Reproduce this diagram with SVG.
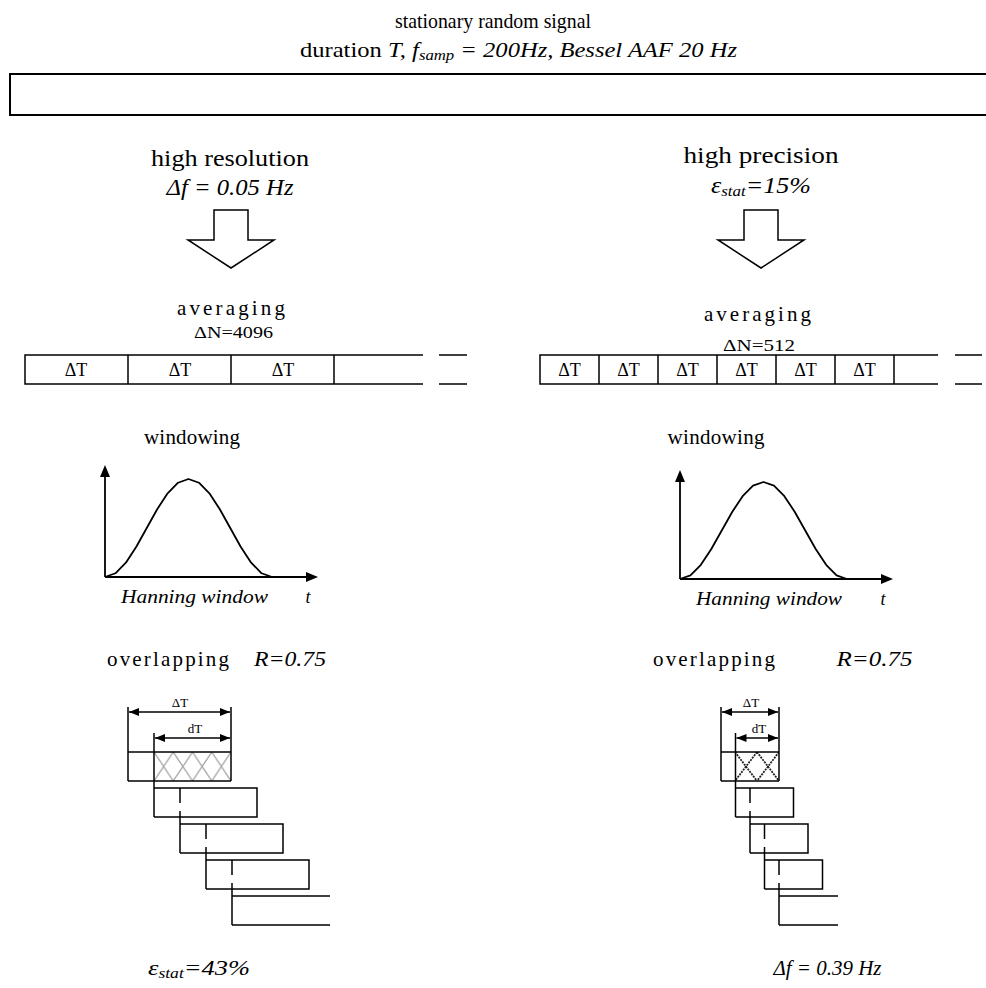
<svg xmlns="http://www.w3.org/2000/svg" width="986" height="988" viewBox="0 0 986 988">
<defs>
<style>
text{font-family:"Liberation Serif","Times New Roman",serif;fill:#000}
.t20{font-size:21px}
.t22{font-size:22px}
.t23{font-size:23px}
.t18{font-size:18px}
.t16{font-size:16px}
.t13{font-size:13px}
.it{font-style:italic}
.ln{fill:none;stroke:#000;stroke-width:1.5}
.ax{fill:none;stroke:#000;stroke-width:1.8}
.dim{fill:none;stroke:#000;stroke-width:1.5}
.blk{fill:#fff;stroke:#000;stroke-width:1.5}
</style>
<marker id="axh" viewBox="0 0 12 10" refX="0" refY="5" markerWidth="12" markerHeight="10" markerUnits="userSpaceOnUse" orient="auto">
<path d="M0,0 L12,5 L0,10 Z" fill="#000"/>
</marker>
<marker id="dh" viewBox="0 0 10 8" refX="10" refY="4" markerWidth="10" markerHeight="8" markerUnits="userSpaceOnUse" orient="auto-start-reverse">
<path d="M0,0 L10,4 L0,8 Z" fill="#000"/>
</marker>
<pattern id="hatchL" patternUnits="userSpaceOnUse" x="154" y="752" width="19.25" height="29">
<path d="M0,0 L19.25,29 M19.25,0 L0,29" stroke="#a8a8a8" stroke-width="1.3" fill="none"/>
</pattern>
<pattern id="hatchR" patternUnits="userSpaceOnUse" x="735" y="752" width="22" height="29">
<path d="M0,0 L22,29 M22,0 L0,29" stroke="#222" stroke-width="1.8" fill="none" stroke-dasharray="2,1"/>
</pattern>
</defs>
<rect width="986" height="988" fill="#fff"/>

<g id="title">
<text x="493" y="28" text-anchor="middle" class="t22" textLength="196" lengthAdjust="spacingAndGlyphs">stationary random signal</text>
<text x="518.5" y="57" text-anchor="middle" class="t22" textLength="437" lengthAdjust="spacingAndGlyphs">duration <tspan class="it">T, f</tspan><tspan class="it" font-size="15" dy="3">samp</tspan><tspan class="it" dy="-3"> = 200Hz, Bessel AAF 20 Hz</tspan></text>
</g>

<g id="signal">
<path d="M988,74 H10 V115 H988" fill="none" stroke="#000" stroke-width="2"/>
</g>

<g id="left-resolution">
<text x="230" y="166" text-anchor="middle" class="t23" textLength="158" lengthAdjust="spacingAndGlyphs">high resolution</text>
<text x="230" y="195" text-anchor="middle" class="t23 it" textLength="127" lengthAdjust="spacingAndGlyphs">Δf = 0.05 Hz</text>
</g>
<g id="left-arrow">
<polygon class="blk" points="214,210 248,210 248,240 274,240 231,268 188,240 214,240"/>
</g>

<g id="right-precision">
<text x="761" y="163" text-anchor="middle" class="t23" textLength="155" lengthAdjust="spacingAndGlyphs">high precision</text>
<text x="761" y="193" text-anchor="middle" class="t23 it" textLength="100" lengthAdjust="spacingAndGlyphs">ε<tspan font-size="15" dy="3">stat</tspan><tspan dy="-3">=15%</tspan></text>
</g>
<g id="right-arrow">
<polygon class="blk" points="744,210 778,210 778,240 804,240 761,268 718,240 744,240"/>
</g>

<g id="left-averaging">
<text x="231" y="315" text-anchor="middle" class="t20" textLength="108" lengthAdjust="spacing">averaging</text>
<text x="233.5" y="338" text-anchor="middle" class="t16" textLength="79" lengthAdjust="spacingAndGlyphs">ΔN=4096</text>
<path class="ln" d="M423,355 H25 V384 H423 M128,355 V384 M231,355 V384 M334,355 V384 M439,355 H467 M439,384 H467"/>
<text x="76" y="376" text-anchor="middle" class="t18">ΔT</text>
<text x="180" y="376" text-anchor="middle" class="t18">ΔT</text>
<text x="283" y="376" text-anchor="middle" class="t18">ΔT</text>
</g>

<g id="right-averaging">
<text x="757.5" y="321" text-anchor="middle" class="t20" textLength="107" lengthAdjust="spacing">averaging</text>
<text x="759" y="351" text-anchor="middle" class="t16" textLength="72" lengthAdjust="spacingAndGlyphs">ΔN=512</text>
<path class="ln" d="M938,355 H540 V384 H938 M599,355 V384 M658,355 V384 M717,355 V384 M776,355 V384 M835,355 V384 M894,355 V384 M955,355 H982 M955,384 H982"/>
<text x="569.5" y="376" text-anchor="middle" class="t18">ΔT</text>
<text x="628.5" y="376" text-anchor="middle" class="t18">ΔT</text>
<text x="687.5" y="376" text-anchor="middle" class="t18">ΔT</text>
<text x="746.5" y="376" text-anchor="middle" class="t18">ΔT</text>
<text x="805.5" y="376" text-anchor="middle" class="t18">ΔT</text>
<text x="864.5" y="376" text-anchor="middle" class="t18">ΔT</text>
</g>

<g id="left-windowing">
<text x="192" y="444" text-anchor="middle" class="t20" textLength="96" lengthAdjust="spacing">windowing</text>
<path class="ax" d="M105,577 V477" marker-end="url(#axh)"/>
<path class="ax" d="M105,577 H306" marker-end="url(#axh)"/>
<polyline fill="none" stroke="#000" stroke-width="1.8" stroke-linejoin="round" points="105,577 115.44,573.27 125.88,562.65 136.31,546.75 146.75,528 157.19,509.25 167.63,493.35 178.06,482.73 188.5,479 198.94,482.73 209.38,493.35 219.81,509.25 230.25,528 240.69,546.75 251.13,562.65 261.56,573.27 272,577"/>
<text x="194.5" y="603" text-anchor="middle" class="t18 it" textLength="147" lengthAdjust="spacingAndGlyphs">Hanning window</text>
<text x="308" y="603" text-anchor="middle" class="t18 it">t</text>
</g>

<g id="right-windowing">
<text x="716" y="444" text-anchor="middle" class="t20" textLength="97" lengthAdjust="spacing">windowing</text>
<path class="ax" d="M680,579 V482" marker-end="url(#axh)"/>
<path class="ax" d="M680,579 H881" marker-end="url(#axh)"/>
<polyline fill="none" stroke="#000" stroke-width="1.8" stroke-linejoin="round" points="680,579 690.44,575.3 700.88,564.8 711.31,549.06 721.75,530.5 732.19,511.94 742.63,496.2 753.06,485.69 763.5,482 773.94,485.69 784.38,496.2 794.81,511.94 805.25,530.5 815.69,549.06 826.13,564.8 836.56,575.3 847,579"/>
<text x="769" y="605" text-anchor="middle" class="t18 it" textLength="146" lengthAdjust="spacingAndGlyphs">Hanning window</text>
<text x="883" y="605" text-anchor="middle" class="t18 it">t</text>
</g>

<g id="left-overlapping">
<text x="168" y="666" text-anchor="middle" class="t20" textLength="122" lengthAdjust="spacing">overlapping</text>
<text x="290" y="666" text-anchor="middle" class="t20 it" textLength="72" lengthAdjust="spacingAndGlyphs">R=0.75</text>
<text x="180" y="707" text-anchor="middle" class="t13">ΔT</text>
<text x="195" y="733" text-anchor="middle" class="t13">dT</text>
<rect x="154" y="752" width="77" height="29" fill="url(#hatchL)"/>
<path class="dim" d="M128,707 V781 M231,707 V781 M154,733 V817"/>
<path class="dim" d="M129,712 H230" marker-start="url(#dh)" marker-end="url(#dh)"/>
<path class="dim" d="M155,738 H230" marker-start="url(#dh)" marker-end="url(#dh)"/>
<path class="ln" d="M128,752 H231 M128,781 H231"/>
<path class="ln" d="M154,788 H257 V817 H154"/>
<path class="ln" d="M180,788 V803 M180,811 V853 M180,824 H283 V853 H180"/>
<path class="ln" d="M206,824 V839 M206,847 V889 M206,860 H309 V889 H206"/>
<path class="ln" d="M232,860 V875 M232,883 V925 M232,896 H330 M232,925 H330"/>
<text x="199" y="975" text-anchor="middle" class="t20 it" textLength="102" lengthAdjust="spacingAndGlyphs">ε<tspan font-size="14" dy="3">stat</tspan><tspan dy="-3">=43%</tspan></text>
</g>

<g id="right-overlapping">
<text x="714" y="666" text-anchor="middle" class="t20" textLength="122" lengthAdjust="spacing">overlapping</text>
<text x="874.5" y="666" text-anchor="middle" class="t20 it" textLength="76" lengthAdjust="spacingAndGlyphs">R=0.75</text>
<text x="751" y="707" text-anchor="middle" class="t13">ΔT</text>
<text x="759" y="733" text-anchor="middle" class="t13">dT</text>
<rect x="735.5" y="752" width="43.5" height="29" fill="url(#hatchR)"/>
<path class="dim" d="M721,707 V781 M779,707 V781 M735.5,733 V817"/>
<path class="dim" d="M722,712 H778" marker-start="url(#dh)" marker-end="url(#dh)"/>
<path class="dim" d="M736.5,738 H778" marker-start="url(#dh)" marker-end="url(#dh)"/>
<path class="ln" d="M721,752 H779 M721,781 H779"/>
<path class="ln" d="M735.5,788 H793.5 V817 H735.5"/>
<path class="ln" d="M750,788 V803 M750,811 V853 M750,824 H808 V853 H750"/>
<path class="ln" d="M764.5,824 V839 M764.5,847 V889 M764.5,860 H822.5 V889 H764.5"/>
<path class="ln" d="M779,860 V875 M779,883 V925 M779,896 H838 M779,925 H838"/>
<text x="827.5" y="975" text-anchor="middle" class="t20 it" textLength="108" lengthAdjust="spacingAndGlyphs">Δf = 0.39 Hz</text>
</g>
</svg>
